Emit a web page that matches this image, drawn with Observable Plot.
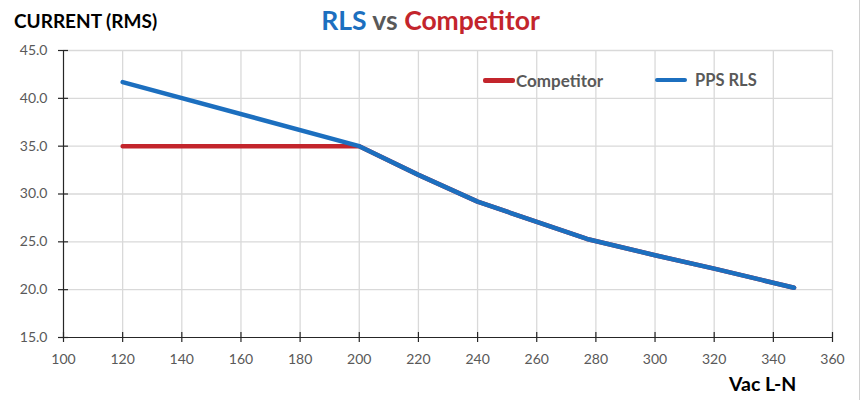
<!DOCTYPE html>
<html>
<head>
<meta charset="utf-8">
<script src="https://cdn.jsdelivr.net/npm/d3@7"></script>
<script src="https://cdn.jsdelivr.net/npm/@observablehq/plot@0.6"></script>
<style>
  html, body { margin: 0; padding: 0; background: #fff; }
  #wrap { position: relative; width: 861px; height: 400px; overflow: hidden; font-family: Lato, "Open Sans", sans-serif; }
  #wrap svg { position: absolute; left: 0; top: 0; }
  .ov { position: absolute; white-space: nowrap; font-weight: bold; }
  #edge { position: absolute; left: 859px; top: 0; width: 1px; height: 400px; background: #d0d0d0; }
</style>
</head>
<body>
<div id="wrap"></div>
<script>
// Data
const voltage = [120, 200, 220, 240, 277, 300, 320, 347];
const ppsRls = [41.7, 35.0, 32.0, 29.2, 25.3, 23.6, 22.2, 20.2];
const competitor = [35.0, 35.0, 32.0, 29.2, 25.3, 23.6, 22.2, 20.2];
const seriesNames = ["Competitor", "PPS RLS"];
const seriesColors = ["#c3252c", "#1c6fbf"];
const xTicks = [100, 120, 140, 160, 180, 200, 220, 240, 260, 280, 300, 320, 340, 360];
const yTicks = [15, 20, 25, 30, 35, 40, 45];
const titleParts = [["RLS", "#1c6fbf"], [" vs ", "#595959"], ["Competitor", "#c3252c"]];
const yTitle = "CURRENT (RMS)";
const xTitle = "Vac L-N";

const rows = [];
voltage.forEach((v, i) => rows.push({series: "Competitor", v, a: competitor[i]}));
voltage.forEach((v, i) => rows.push({series: "PPS RLS", v, a: ppsRls[i]}));

const gridColor = "#d9d9d9";
const axisColor = "#262626";
const labelColor = "#595959";

const chart = Plot.plot({
  width: 861,
  height: 400,
  marginLeft: 63,
  marginRight: 29,
  marginTop: 50,
  marginBottom: 63,
  style: {fontFamily: "Lato, 'Open Sans', sans-serif", background: "transparent"},
  x: {domain: [100, 360]},
  y: {domain: [15, 45]},
  color: {domain: seriesNames, range: seriesColors},
  marks: [
    Plot.gridX(xTicks.slice(1), {stroke: gridColor, strokeOpacity: 1, strokeWidth: 1.3}),
    Plot.gridY(yTicks.slice(1), {stroke: gridColor, strokeOpacity: 1, strokeWidth: 1.3}),
    Plot.ruleX([100], {stroke: axisColor, strokeWidth: 1.2}),
    Plot.ruleY([15], {stroke: axisColor, strokeWidth: 1.2}),
    Plot.ruleX(xTicks, {x: d => d, y1: 15, y2: 15, insetTop: -5, insetBottom: -5, stroke: axisColor, strokeWidth: 1.2}),
    Plot.ruleY(yTicks, {y: d => d, x1: 100, x2: 100, insetLeft: -5, insetRight: -5, stroke: axisColor, strokeWidth: 1.2}),
    Plot.axisX(xTicks, {tickSize: 0, tickPadding: 17, fontSize: 14, fill: labelColor, label: null, tickFormat: d => d}),
    Plot.axisY(yTicks, {tickSize: 0, tickPadding: 16, fontSize: 14, fill: labelColor, label: null, tickFormat: d3.format(".1f")}),
    Plot.line(rows, {x: "v", y: "a", z: "series", stroke: "series", strokeWidth: 4.5, strokeLinecap: "round", strokeLinejoin: "round"})
  ]
});
const wrap = document.getElementById("wrap");
wrap.appendChild(chart);

// Title
const t = document.createElement("div");
t.className = "ov";
t.style.left = "0px"; t.style.width = "861px"; t.style.textAlign = "center";
t.style.top = "4px"; t.style.fontSize = "26.5px";
titleParts.forEach(([s, c]) => { const sp = document.createElement("span"); sp.textContent = s; sp.style.color = c; t.appendChild(sp); });
wrap.appendChild(t);

// Axis titles
const yt = document.createElement("div");
yt.className = "ov"; yt.textContent = yTitle;
yt.style.left = "14px"; yt.style.top = "9px"; yt.style.fontSize = "19px"; yt.style.color = "#000";
wrap.appendChild(yt);

const xt = document.createElement("div");
xt.className = "ov"; xt.textContent = xTitle;
xt.style.left = "729px"; xt.style.top = "372px"; xt.style.fontSize = "19.5px"; xt.style.color = "#000";
wrap.appendChild(xt);

// Legend
const legendX = [483, 655];
seriesNames.forEach((name, i) => {
  const item = document.createElement("div");
  item.className = "ov";
  item.style.left = legendX[i] + "px"; item.style.top = "70px";
  item.style.fontSize = i === 0 ? "17px" : "16.5px"; item.style.color = labelColor;
  item.style.display = "flex"; item.style.alignItems = "center";
  const sw = document.createElement("span");
  sw.style.display = "inline-block"; sw.style.width = "32px"; sw.style.height = "4.5px";
  sw.style.borderRadius = "2px"; sw.style.background = seriesColors[i];
  sw.style.marginRight = i === 0 ? "1px" : "8px";
  item.appendChild(sw);
  const tx = document.createElement("span"); tx.textContent = name;
  item.appendChild(tx);
  wrap.appendChild(item);
});

const edge = document.createElement("div");
edge.id = "edge";
wrap.appendChild(edge);
</script>
</body>
</html>
